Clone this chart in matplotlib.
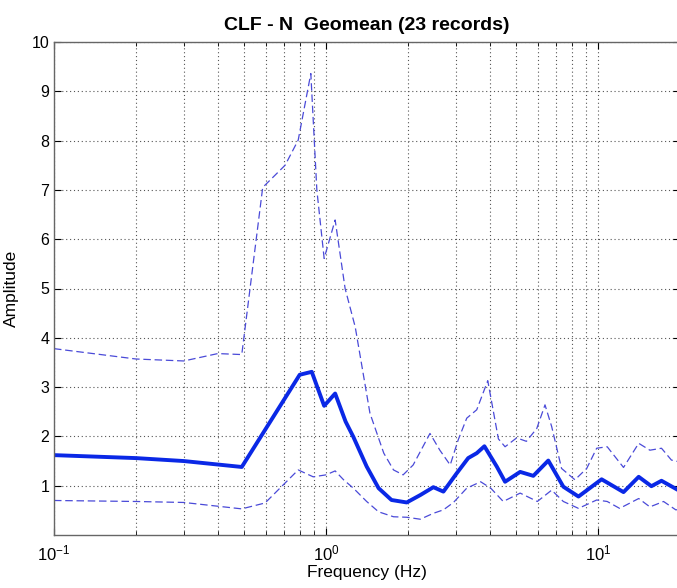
import numpy as np
import matplotlib
matplotlib.use("Agg")
import matplotlib.pyplot as plt
from matplotlib.ticker import LogLocator, NullFormatter, FixedLocator

plt.rcParams["font.family"] = ["Liberation Sans", "DejaVu Sans"]
plt.rcParams["mathtext.fontset"] = "custom"
plt.rcParams["mathtext.rm"] = "Liberation Sans"
plt.rcParams["axes.unicode_minus"] = False

# geometric mean spectrum (thick line)
mean_f = [0.1, 0.2, 0.3, 0.49, 0.8, 0.886, 0.984, 1.08, 1.18, 1.26, 1.41, 1.56,
          1.74, 1.98, 2.22, 2.48, 2.70, 3.02, 3.33, 3.58, 3.82, 4.24, 4.55, 5.17,
          5.78, 6.56, 7.45, 8.47, 10.3, 12.4, 14.1, 15.7, 17.1, 20.0]
mean_a = [1.62, 1.56, 1.50, 1.38, 3.25, 3.31, 2.62, 2.87, 2.30, 1.99, 1.39, 0.95,
          0.71, 0.66, 0.81, 0.97, 0.88, 1.25, 1.56, 1.66, 1.80, 1.39, 1.08, 1.28,
          1.20, 1.51, 0.98, 0.78, 1.13, 0.87, 1.18, 0.99, 1.10, 0.89]

# upper bound (dashed)
up_f = [0.1, 0.2, 0.3, 0.4, 0.49, 0.585, 0.707, 0.79, 0.879, 0.925, 0.984, 1.08,
        1.175, 1.28, 1.45, 1.63, 1.77, 1.92, 2.09, 2.41, 2.62, 2.86, 3.06, 3.29,
        3.58, 3.93, 4.30, 4.55, 5.02, 5.45, 5.95, 6.38, 6.75, 7.34, 8.22, 9.08,
        9.88, 10.8, 12.4, 14.1, 15.5, 17.1, 18.6, 20.0]
up_a = [3.78, 3.57, 3.53, 3.68, 3.66, 7.05, 7.50, 8.01, 9.36, 7.00, 5.61, 6.39,
        5.00, 4.22, 2.47, 1.66, 1.32, 1.22, 1.42, 2.06, 1.72, 1.42, 1.93, 2.37,
        2.54, 3.13, 1.95, 1.79, 1.97, 1.90, 2.16, 2.64, 2.20, 1.35, 1.12, 1.35,
        1.76, 1.79, 1.37, 1.86, 1.72, 1.76, 1.52, 1.48]

# lower bound (dashed)
lo_f = [0.1, 0.2, 0.3, 0.49, 0.597, 0.79, 0.897, 1.0, 1.08, 1.16, 1.26, 1.41,
        1.56, 1.77, 1.98, 2.22, 2.48, 2.70, 2.94, 3.29, 3.70, 4.03, 4.48, 5.17,
        5.98, 6.75, 7.45, 8.47, 9.88, 10.8, 12.0, 14.1, 15.5, 17.4, 19.3, 20.0]
lo_a = [0.70, 0.68, 0.66, 0.53, 0.65, 1.32, 1.18, 1.22, 1.30, 1.12, 0.95, 0.68,
        0.47, 0.37, 0.36, 0.32, 0.44, 0.51, 0.66, 0.95, 1.08, 0.95, 0.68, 0.85,
        0.68, 0.91, 0.68, 0.54, 0.71, 0.68, 0.54, 0.74, 0.57, 0.68, 0.51, 0.52]


def main() -> None:
    fig = plt.figure(figsize=(6.77, 5.88), dpi=100)
    ax = fig.add_axes([54 / 677, 53 / 588, 626 / 677, 493 / 588])

    ax.plot(up_f, up_a, color="#4a4ad8", lw=0.9, dashes=(6, 3))
    ax.plot(lo_f, lo_a, color="#4a4ad8", lw=0.9, dashes=(6, 3))
    ax.plot(mean_f, mean_a, color="#0a28e6", lw=2.8, solid_joinstyle="round")

    ax.set_xscale("log")
    ax.set_xlim(0.1, 20)
    ax.set_ylim(0, 10)
    ax.yaxis.set_major_locator(FixedLocator(range(1, 11)))
    ax.xaxis.set_major_locator(LogLocator(base=10))
    ax.xaxis.set_minor_locator(LogLocator(base=10, subs=np.arange(2, 10)))
    ax.xaxis.set_minor_formatter(NullFormatter())

    ax.grid(True, which="major", color="#555555", linestyle=(0, (1, 2.5)), lw=0.8)
    ax.grid(True, which="minor", axis="x", color="#555555", linestyle=(0, (1, 2.5)), lw=0.8)
    ax.tick_params(which="both", direction="in", top=True, right=True,
                   labelsize=11.5, length=5)
    ax.tick_params(axis="x", which="major", pad=6, labelsize=12)
    ax.tick_params(which="minor", length=3)
    for s in ax.spines.values():
        s.set_color("#666666")
        s.set_linewidth(1.0)

    ax.set_xlabel("Frequency (Hz)", fontsize=12.5, labelpad=1)
    ax.set_ylabel("Amplitude", fontsize=12.5, labelpad=9)
    ax.set_title("CLF - N  Geomean (23 records)", fontsize=14,
                 fontweight="bold", pad=9)

    fig.savefig("out.png", dpi=100)
    plt.close(fig)


if __name__ == "__main__":
    main()
